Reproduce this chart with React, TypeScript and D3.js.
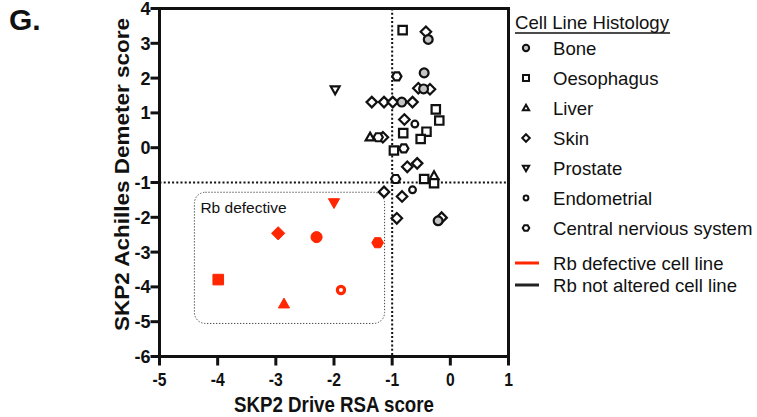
import * as d3 from "d3";

type Shape = "bone" | "oesophagus" | "liver" | "skin" | "prostate" | "endometrial" | "cns";

interface Pt {
  x: number
  y: number
  shape: Shape
}

const RED = "#ff2600";
const GREY = "#c4c4c4";

// Rb not altered cell lines (black)
const notAltered: Pt[] = [
  { x: -0.82, y: 3.38, shape: "oesophagus" },
  { x: -0.25, y: 1.1, shape: "oesophagus" },
  { x: -0.19, y: 0.78, shape: "oesophagus" },
  { x: -0.41, y: 0.46, shape: "oesophagus" },
  { x: -0.51, y: 0.25, shape: "oesophagus" },
  { x: -0.81, y: 0.42, shape: "oesophagus" },
  { x: -0.97, y: -0.08, shape: "oesophagus" },
  { x: -0.45, y: -0.9, shape: "oesophagus" },
  { x: -0.28, y: -1.02, shape: "oesophagus" },
  { x: -0.42, y: 3.33, shape: "skin" },
  { x: -0.55, y: 1.71, shape: "skin" },
  { x: -0.35, y: 1.68, shape: "skin" },
  { x: -1.35, y: 1.31, shape: "skin" },
  { x: -1.14, y: 1.31, shape: "skin" },
  { x: -0.99, y: 1.31, shape: "skin" },
  { x: -0.65, y: 1.31, shape: "skin" },
  { x: -0.79, y: 0.81, shape: "skin" },
  { x: -1.16, y: 0.3, shape: "skin" },
  { x: -0.74, y: -0.55, shape: "skin" },
  { x: -0.57, y: -0.45, shape: "skin" },
  { x: -1.14, y: -1.27, shape: "skin" },
  { x: -0.83, y: -1.4, shape: "skin" },
  { x: -0.92, y: -2.03, shape: "skin" },
  { x: -0.15, y: -2.01, shape: "skin" },
  { x: -0.38, y: 3.11, shape: "bone" },
  { x: -0.45, y: 2.15, shape: "bone" },
  { x: -0.46, y: 1.69, shape: "bone" },
  { x: -0.835, y: 1.31, shape: "bone" },
  { x: -0.21, y: -2.1, shape: "bone" },
  { x: -1.38, y: 0.3, shape: "liver" },
  { x: -0.28, y: -0.81, shape: "liver" },
  { x: -1.98, y: 1.67, shape: "prostate" },
  { x: -0.65, y: -1.21, shape: "endometrial" },
  { x: -0.61, y: 0.68, shape: "endometrial" },
  { x: -0.92, y: 2.05, shape: "cns" },
  { x: -0.8, y: -0.02, shape: "cns" },
  { x: -0.94, y: -0.9, shape: "cns" },
  { x: -1.24, y: 0.3, shape: "cns" },
];

// Rb defective cell lines (red)
const defective: Pt[] = [
  { x: -2.0, y: -1.58, shape: "prostate" },
  { x: -2.96, y: -2.46, shape: "skin" },
  { x: -2.3, y: -2.57, shape: "bone" },
  { x: -1.25, y: -2.73, shape: "cns" },
  { x: -3.99, y: -3.79, shape: "oesophagus" },
  { x: -1.88, y: -4.09, shape: "endometrial" },
  { x: -2.86, y: -4.49, shape: "liver" },
];

const legendItems: { shape: Shape; label: string }[] = [
  { shape: "bone", label: "Bone" },
  { shape: "oesophagus", label: "Oesophagus" },
  { shape: "liver", label: "Liver" },
  { shape: "skin", label: "Skin" },
  { shape: "prostate", label: "Prostate" },
  { shape: "endometrial", label: "Endometrial" },
  { shape: "cns", label: "Central nervious system" },
];

const lineLegend = [
  { color: RED, label: "Rb defective cell line" },
  { color: "#222", label: "Rb not altered cell line" },
];

const xTicks = [-5, -4, -3, -2, -1, 0, 1];
const yTicks = [4, 3, 2, 1, 0, -1, -2, -3, -4, -5, -6];
const boxX = [-4.4, -1.13];
const boxY = [-5.05, -1.28];

const x = d3.scaleLinear().domain([-5, 1]).range([159.5, 508.5]);
const y = d3.scaleLinear().domain([-6, 4]).range([356.5, 8.5]);

const poly = (pts: [number, number][]) => d3.line()(pts)! + "Z";

function shapePath(shape: Shape, s: number): string {
  switch (shape) {
    case "oesophagus":
      return poly([[-s, -s], [s, -s], [s, s], [-s, s]]);
    case "liver":
      return poly([[0, -s * 1.1], [s * 1.05, s * 0.75], [-s * 1.05, s * 0.75]]);
    case "prostate":
      return poly([[0, s * 1.1], [s * 1.05, -s * 0.75], [-s * 1.05, -s * 0.75]]);
    case "skin":
      return poly([[0, -s * 1.25], [s * 1.25, 0], [0, s * 1.25], [-s * 1.25, 0]]);
    case "cns":
      return poly(d3.range(6).map(i => [Math.cos((i * Math.PI) / 3) * s * 1.1, Math.sin((i * Math.PI) / 3) * s * 1.1] as [number, number]));
    case "endometrial":
      return d3.arc()({ innerRadius: 0, outerRadius: s * 0.8, startAngle: 0, endAngle: 2 * Math.PI })!;
    default:
      return d3.arc()({ innerRadius: 0, outerRadius: s * 1.05, startAngle: 0, endAngle: 2 * Math.PI })!;
  }
}

function Marker({ p, red }: { p: Pt; red: boolean }) {
  const tx = `translate(${x(p.x)},${y(p.y)})`;
  if (red) {
    if (p.shape === "endometrial") {
      return <path d={shapePath(p.shape, 4.5)} transform={tx} fill="#fff" stroke={RED} strokeWidth={3.2} />;
    }
    return <path d={shapePath(p.shape, 5.3)} transform={tx} fill={RED} stroke={RED} strokeWidth={1} strokeLinejoin="round" />;
  }
  const fill = p.shape === "bone" ? GREY : "#fff";
  return <path d={shapePath(p.shape, 4.2)} transform={tx} fill={fill} stroke="#111" strokeWidth={2.2} />;
}

export default function App() {
  const font = "Arial, 'Liberation Sans', Helvetica, sans-serif";
  return (
    <div style={{ position: "fixed", left: 0, top: 0 }}>
      <svg width={757} height={417} style={{ display: "block", background: "#fff" }} fontFamily={font}>
        <text x={9} y={30} fontSize={30} fontWeight="bold" fill="#111">G.</text>

        {/* reference lines */}
        <line x1={x(-1)} x2={x(-1)} y1={y(4)} y2={y(-6)} stroke="#111" strokeWidth={2} strokeDasharray="2,2.2" />
        <line x1={x(-5)} x2={x(1)} y1={y(-1)} y2={y(-1)} stroke="#111" strokeWidth={2} strokeDasharray="2,2.2" />

        {/* Rb defective box */}
        <rect x={x(boxX[0])} y={y(boxY[1])} width={x(boxX[1]) - x(boxX[0])} height={y(boxY[0]) - y(boxY[1])}
          rx={11} fill="none" stroke="#444" strokeWidth={1} strokeDasharray="1.3,1.7" />
        <text x={x(boxX[0]) + 6} y={y(boxY[1]) + 21} fontSize={15.5} fill="#111">Rb defective</text>

        {/* points */}
        {notAltered.map((p, i) => <Marker key={"n" + i} p={p} red={false} />)}
        {defective.map((p, i) => <Marker key={"d" + i} p={p} red={true} />)}

        {/* frame and axes */}
        <rect x={x(-5)} y={y(4)} width={x(1) - x(-5)} height={y(-6) - y(4)} fill="none" stroke="#111" strokeWidth={3} />
        {yTicks.map(t => (
          <g key={"y" + t}>
            <line x1={x(-5) - 9} x2={x(-5)} y1={y(t)} y2={y(t)} stroke="#111" strokeWidth={3} />
            <text x={x(-5) - 9} y={y(t)} dy="0.36em" textAnchor="end" fontSize={18} fontWeight="bold" fill="#111">{t}</text>
          </g>
        ))}
        {xTicks.map(t => (
          <g key={"x" + t}>
            <line x1={x(t)} x2={x(t)} y1={y(-6)} y2={y(-6) + 9} stroke="#111" strokeWidth={3} />
            <text transform={`translate(${x(t)},386) scale(0.87,1)`} textAnchor="middle" fontSize={18} fontWeight="bold" fill="#111">{t}</text>
          </g>
        ))}
        <text transform={`translate(${(x(-5) + x(1)) / 2},412) scale(0.87,1)`} textAnchor="middle" fontSize={21.5} fontWeight="bold" fill="#111">
          SKP2 Drive RSA score
        </text>
        <text transform={`translate(129,${y(-1) - 8}) rotate(-90) scale(1,0.92)`} textAnchor="middle" fontSize={22.5} fontWeight="bold" fill="#111">
          SKP2 Achilles Demeter score
        </text>

        {/* legend */}
        <text x={515} y={29} fontSize={18.6} fill="#111">Cell Line Histology</text>
        <line x1={515} x2={670} y1={33} y2={33} stroke="#111" strokeWidth={1.3} />
        {legendItems.map((it, i) => {
          const cy = 48 + i * 30;
          return (
            <g key={it.label}>
              <path d={shapePath(it.shape, 3)} transform={`translate(526,${cy})`} fill={it.shape === "bone" ? GREY : "#fff"} stroke="#111" strokeWidth={2} />
              <text x={553} y={cy} dy="0.35em" fontSize={18.6} fill="#111">{it.label}</text>
            </g>
          );
        })}
        {lineLegend.map((it, i) => {
          const cy = 263 + i * 22;
          return (
            <g key={it.label}>
              <line x1={515} x2={539} y1={cy} y2={cy} stroke={it.color} strokeWidth={3} />
              <text x={553} y={cy} dy="0.35em" fontSize={18.6} fill="#111">{it.label}</text>
            </g>
          );
        })}
      </svg>
    </div>
  );
}
